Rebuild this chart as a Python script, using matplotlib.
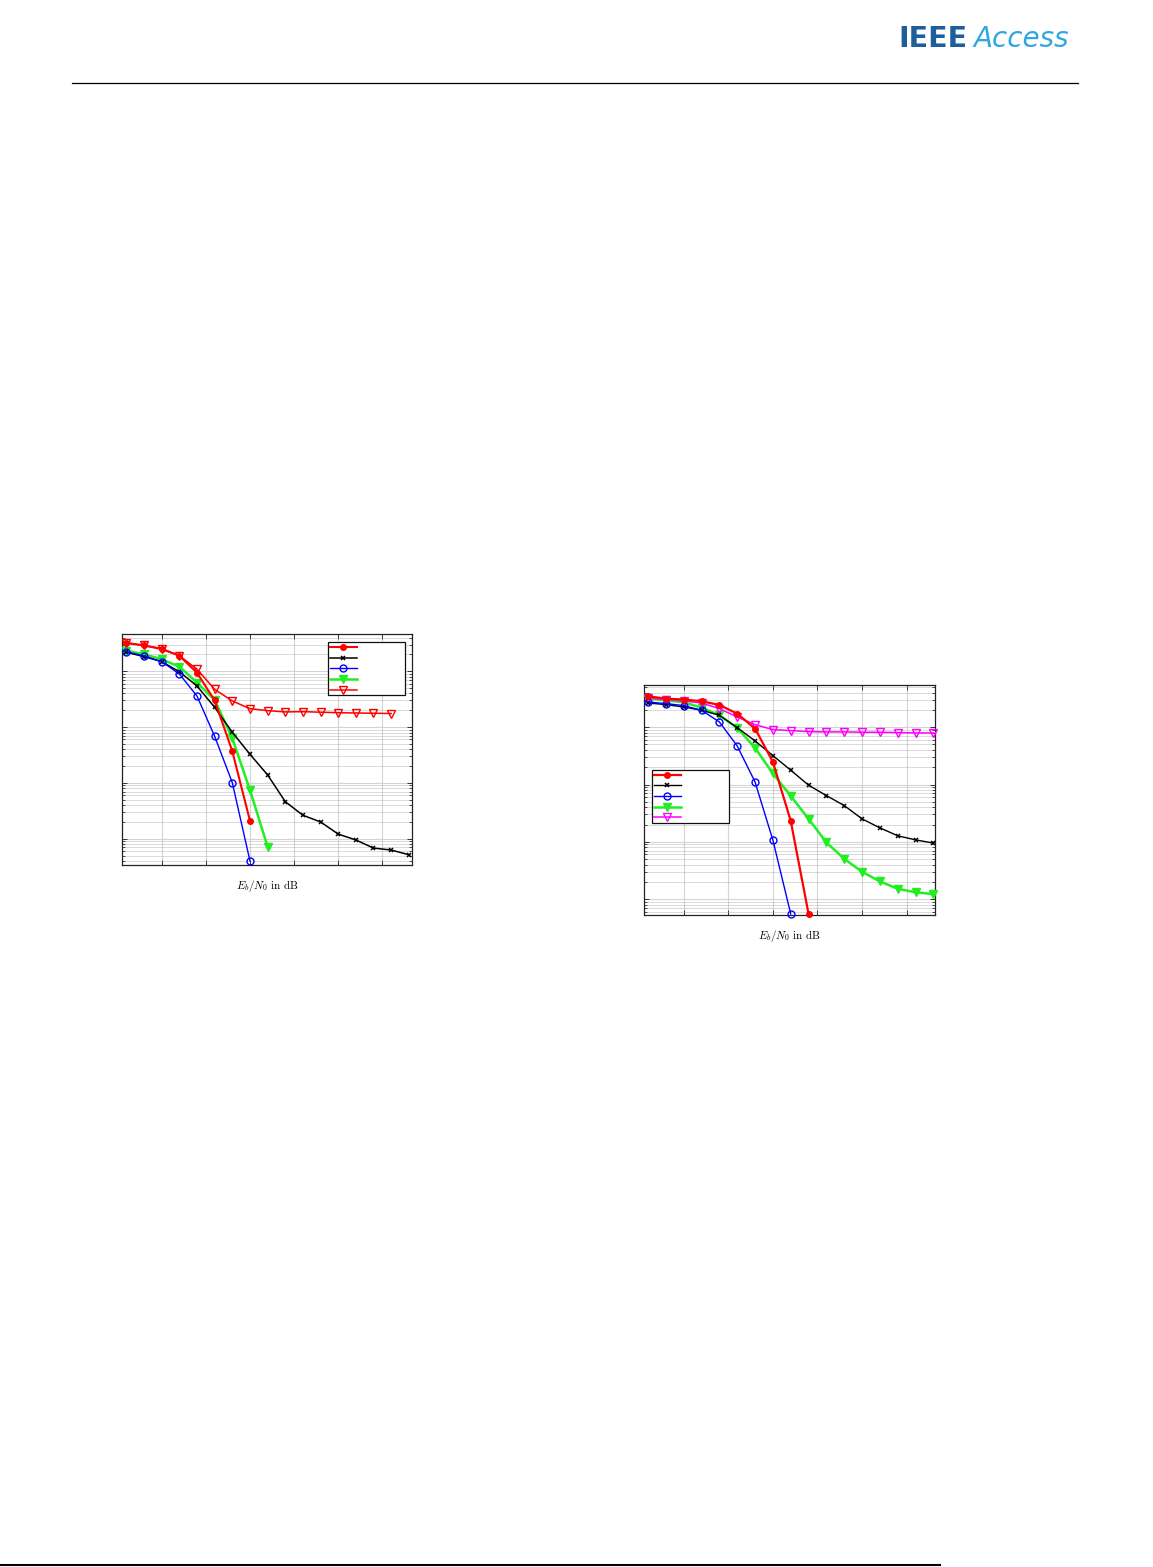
import numpy as np
import matplotlib
matplotlib.use("Agg")
import matplotlib.pyplot as plt
from matplotlib.lines import Line2D
from matplotlib.ticker import LogLocator, NullFormatter, FixedLocator

plt.rcParams['mathtext.fontset'] = 'cm'

# ---------------- data: left plot ----------------
ebn0_left = [0.2 + 0.4 * k for k in range(17)]
left_red_filled = [0.32, 0.29, 0.25, 0.19, 0.094, 0.03, 0.0037, 2.1e-4]
left_black_x = [0.219, 0.183, 0.149, 0.098, 0.0545, 0.0226, 0.00807, 0.00326,
                0.00139, 4.62e-4, 2.63e-4, 2.0e-4, 1.21e-4, 9.5e-5, 6.8e-5,
                6.27e-5, 5.17e-5]
left_blue_o = [0.224, 0.188, 0.149, 0.0895, 0.036, 0.00684, 0.00101, 4.0e-5]
left_green_tri = [0.234, 0.202, 0.164, 0.121, 0.0626, 0.0306, 0.0063, 7.46e-4, 7.2e-5]
left_red_tri = [0.326, 0.29, 0.255, 0.19, 0.109, 0.0475, 0.0294, 0.0214, 0.0197,
                0.0187, 0.0189, 0.0185, 0.0181, 0.0179, 0.0177, 0.0175]

# ---------------- data: right plot ----------------
ebn0_right = [0.2 + 0.4 * k for k in range(17)]
right_red_filled = [0.347, 0.317, 0.305, 0.285, 0.245, 0.173, 0.0948, 0.0248, 0.00232, 5.5e-5]
right_black_x = [0.265, 0.249, 0.226, 0.198, 0.162, 0.0987, 0.0577, 0.032, 0.0178,
                 0.00973, 0.00641, 0.00429, 0.00251, 0.00175, 0.00127, 0.00108, 9.47e-4]
right_blue_o = [0.276, 0.259, 0.239, 0.198, 0.124, 0.0472, 0.0111, 0.00107, 5.5e-5]
right_green_tri = [0.317, 0.296, 0.273, 0.221, 0.162, 0.0973, 0.0436, 0.0156, 0.00632,
                   0.00251, 9.73e-4, 5.04e-4, 2.99e-4, 2.03e-4, 1.51e-4, 1.31e-4, 1.22e-4]
right_magenta_tri = [0.324, 0.305, 0.288, 0.265, 0.212, 0.151, 0.111, 0.091, 0.0875,
                     0.084, 0.083, 0.083, 0.0818, 0.0818, 0.0807, 0.0796, 0.0796]

xticks_db = [1, 2, 3, 4, 5, 6]
xlabel = r'$E_b/N_0\ \mathrm{in\ dB}$'

RED = '#ff0000'
BLUE = '#0000ff'
GREEN = '#22ee22'
MAGENTA = '#ff00ff'

W, H = 1153, 1567
fig = plt.figure(figsize=(W / 100, H / 100), dpi=100)


def style_axes(ax, xlim, ylim):
    ax.set_yscale('log')
    ax.set_xlim(*xlim)
    ax.set_ylim(*ylim)
    ax.xaxis.set_major_locator(FixedLocator(xticks_db))
    ax.yaxis.set_major_locator(LogLocator(base=10, numticks=20))
    ax.yaxis.set_minor_locator(LogLocator(base=10, subs=np.arange(2, 10), numticks=20))
    ax.xaxis.set_major_formatter(NullFormatter())
    ax.yaxis.set_major_formatter(NullFormatter())
    ax.yaxis.set_minor_formatter(NullFormatter())
    ax.tick_params(which='both', direction='in', top=True, right=True, color='#333333')
    ax.tick_params(which='major', length=3.5, width=0.7)
    ax.tick_params(which='minor', length=2, width=0.6)
    ax.grid(True, which='major', color='#d4d4d4', linewidth=0.8, linestyle='-')
    ax.grid(True, which='minor', axis='y', color='#aaaaaa', linewidth=0.6, linestyle=(0, (1.2, 1.2)))
    ax.set_axisbelow(True)
    for s in ax.spines.values():
        s.set_linewidth(0.9)
        s.set_color('#222222')
    ax.set_xlabel(xlabel, fontsize=8, labelpad=6)


def add_legend(ax, handles, bbox):
    leg = ax.legend(handles=handles, labels=[' '] * len(handles), loc='upper left',
                    bbox_to_anchor=bbox, mode='expand', fontsize=5, numpoints=1,
                    handlelength=3.9, handletextpad=0.3, labelspacing=0.67,
                    borderpad=0.3, borderaxespad=0.0, fancybox=False, framealpha=1)
    leg.get_frame().set_edgecolor('#111111')
    leg.get_frame().set_linewidth(0.9)
    return leg


# ---------------- left axes ----------------
axL = fig.add_axes([121.7 / W, 1 - 864.5 / H, 290.6 / W, 230.2 / H])
style_axes(axL, (0.093, 6.68), (3.45e-5, 0.46))
n = len(left_red_filled)
l1, = axL.plot(ebn0_left[:n], left_red_filled, color=RED, lw=1.5, marker='o', ms=4, mfc=RED, mec=RED, clip_on=False, zorder=5)
n = len(left_black_x)
l2, = axL.plot(ebn0_left[:n], left_black_x, color='black', lw=1.1, marker='x', ms=3.5, mew=1.1, clip_on=False, zorder=4)
n = len(left_blue_o)
l3, = axL.plot(ebn0_left[:n], left_blue_o, color=BLUE, lw=1.0, marker='o', ms=5, mfc='none', mec=BLUE, mew=1.0, clip_on=False, zorder=4)
n = len(left_green_tri)
l4, = axL.plot(ebn0_left[:n], left_green_tri, color=GREEN, lw=1.8, marker='v', ms=5.5, mfc=GREEN, mec=GREEN, clip_on=False, zorder=3)
n = len(left_red_tri)
l5, = axL.plot(ebn0_left[:n], left_red_tri, color=RED, lw=1.1, marker='v', ms=5.5, mfc='none', mec=RED, mew=1.0, clip_on=False, zorder=3)
add_legend(axL, [l1, l2, l3, l4, l5], (0.709, 0.726, 0.267, 0.239))

# ---------------- right axes ----------------
axR = fig.add_axes([644.3 / W, 1 - 915 / H, 290.7 / W, 230 / H])
style_axes(axR, (0.117, 6.635), (5.26e-5, 0.547))
n = len(right_red_filled)
r1, = axR.plot(ebn0_right[:n], right_red_filled, color=RED, lw=1.6, marker='o', ms=4, mfc=RED, mec=RED, clip_on=False, zorder=5)
n = len(right_black_x)
r2, = axR.plot(ebn0_right[:n], right_black_x, color='black', lw=1.0, marker='x', ms=3.5, mew=1.1, clip_on=False, zorder=4)
n = len(right_blue_o)
r3, = axR.plot(ebn0_right[:n], right_blue_o, color=BLUE, lw=1.0, marker='o', ms=5, mfc='none', mec=BLUE, mew=1.0, clip_on=False, zorder=4)
n = len(right_green_tri)
r4, = axR.plot(ebn0_right[:n], right_green_tri, color=GREEN, lw=1.8, marker='v', ms=5.5, mfc=GREEN, mec=GREEN, clip_on=False, zorder=3)
n = len(right_magenta_tri)
r5, = axR.plot(ebn0_right[:n], right_magenta_tri, color=MAGENTA, lw=1.1, marker='v', ms=5.5, mfc='none', mec=MAGENTA, mew=1.0, clip_on=False, zorder=3)
add_legend(axR, [r1, r2, r3, r4, r5], (0.0255, 0.384, 0.267, 0.246))

# ---------------- page decorations ----------------
fig.add_artist(Line2D([72 / W, 1078 / W], [1 - 83 / H, 1 - 83 / H], transform=fig.transFigure,
                      color='black', lw=0.9))
fig.add_artist(Line2D([0 / W, 940 / W], [1 - 1565 / H, 1 - 1565 / H], transform=fig.transFigure,
                      color='black', lw=1.5))
fig.text(898 / W, 1 - 47 / H, 'IEEE', fontsize=20.5, fontweight='heavy', color='#1c5f9c',
         ha='left', va='baseline', family='DejaVu Sans')
fig.text(1069 / W, 1 - 47 / H, 'Access', fontsize=20, fontstyle='oblique', color='#2ea6e0',
         ha='right', va='baseline', family='DejaVu Sans')

fig.savefig('out.png', dpi=100)
